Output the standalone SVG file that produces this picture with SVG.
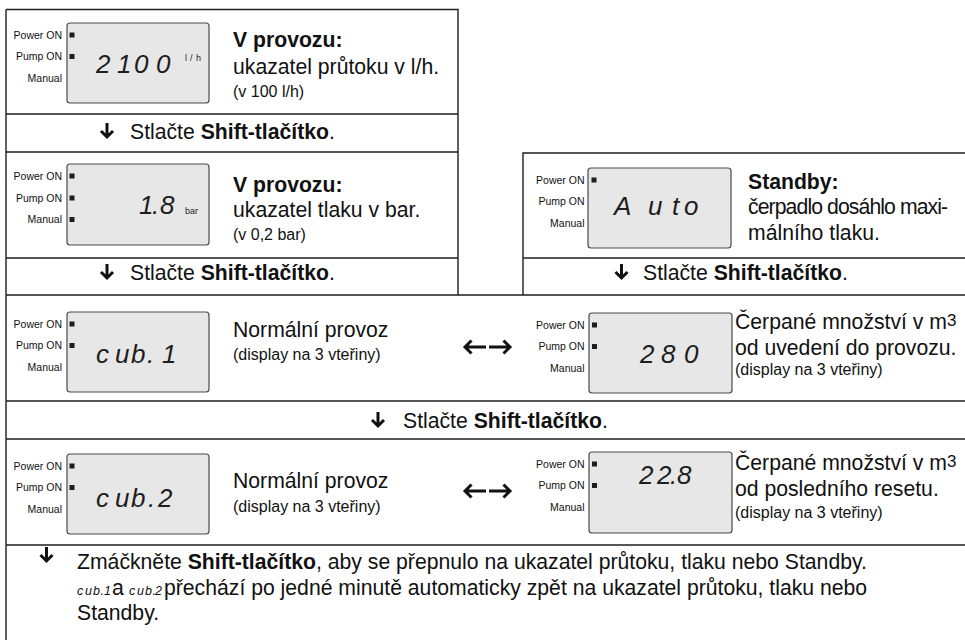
<svg xmlns="http://www.w3.org/2000/svg" width="965" height="640" viewBox="0 0 965 640">
<style>
.frame{fill:none;stroke:#1e1e1e;stroke-width:1.4}
.lcd{fill:#e7e7e7;stroke:#4a4a4a;stroke-width:1.2}
.lbl{font-family:"Liberation Sans",Arial,sans-serif;font-size:10.5px;fill:#111;text-anchor:end}
.led{fill:#1e1e1e}
.seg{font-family:"Liberation Sans",Arial,sans-serif;font-style:italic;font-size:26px;fill:#1e1e1e}
.unit{font-family:"Liberation Sans",Arial,sans-serif;font-size:9px;fill:#1e1e1e}
.t{font-family:"Liberation Sans",Arial,sans-serif;font-size:21.2px;fill:#111}
.b{font-weight:bold}
.s{font-family:"Liberation Sans",Arial,sans-serif;font-size:16px;fill:#111}
.sm{font-style:italic;font-size:12.5px}
.arr{fill:none;stroke:#111;stroke-width:3;stroke-linejoin:miter;stroke-linecap:butt}
</style>
<g id="frame" class="frame">
<path d="M6,9.5 H458 V295 M6,9.5 V640 M6,114 H458 M6,152 H458 M6,258 H458"/>
<path d="M523,295 V153 H965 M523,258 H965"/>
<path d="M6,295 H965 M6,401 H965 M6,439 H965 M6,545 H965"/>
</g>

<g id="node-flow">
<rect class="lcd" x="67" y="23" width="142" height="80" rx="3"/>
<text class="lbl" x="62" y="38.5">Power ON</text>
<text class="lbl" x="62" y="60">Pump ON</text>
<text class="lbl" x="62" y="81.5">Manual</text>
<rect class="led" x="69.5" y="32.5" width="5" height="5"/>
<rect class="led" x="69.5" y="54" width="5" height="5"/>
<text class="seg" x="96 117 134 156" y="73">2100</text>
<text class="unit" x="185 190 196" y="61" font-size="8">l/h</text>
<text class="t b" x="233" y="47">V provozu:</text>
<text class="t" x="233" y="74">ukazatel průtoku v l/h.</text>
<text class="s" x="233" y="97">(v 100 l/h)</text>
</g>

<g id="step-1">
<text class="t" x="130" y="139">Stlačte <tspan class="b">Shift-tlačítko</tspan>.</text>
</g>

<g id="node-pressure">
<rect class="lcd" x="67" y="164" width="142" height="81" rx="3"/>
<text class="lbl" x="62" y="179.5">Power ON</text>
<text class="lbl" x="62" y="201.5">Pump ON</text>
<text class="lbl" x="62" y="223">Manual</text>
<rect class="led" x="69.5" y="173.5" width="5" height="5"/>
<rect class="led" x="69.5" y="195.5" width="5" height="5"/>
<rect class="led" x="69.5" y="217" width="5" height="5"/>
<text class="seg" x="139 152 160" y="214">1.8</text>
<text class="unit" x="185" y="214">bar</text>
<text class="t b" x="233" y="192">V provozu:</text>
<text class="t" x="233" y="217">ukazatel tlaku v bar.</text>
<text class="s" x="233" y="240">(v 0,2 bar)</text>
</g>

<g id="step-2">
<text class="t" x="130" y="280">Stlačte <tspan class="b">Shift-tlačítko</tspan>.</text>
</g>

<g id="node-standby">
<rect class="lcd" x="588" y="168" width="143" height="80" rx="3"/>
<text class="lbl" x="584.5" y="183.5">Power ON</text>
<text class="lbl" x="584.5" y="205">Pump ON</text>
<text class="lbl" x="584.5" y="227">Manual</text>
<rect class="led" x="591.5" y="177.5" width="5" height="5"/>
<text class="seg" x="614 648 672 684" y="215">Auto</text>
<text class="t b" x="748" y="189">Standby:</text>
<text class="t" x="748" y="214" letter-spacing="-0.9">čerpadlo dosáhlo maxi-</text>
<text class="t" x="748" y="240">málního tlaku.</text>
</g>

<g id="step-3">
<text class="t" x="643" y="280">Stlačte <tspan class="b">Shift-tlačítko</tspan>.</text>
</g>

<g id="node-cub1">
<rect class="lcd" x="67" y="312" width="142" height="80" rx="3"/>
<text class="lbl" x="62" y="327.5">Power ON</text>
<text class="lbl" x="62" y="349">Pump ON</text>
<text class="lbl" x="62" y="370.5">Manual</text>
<rect class="led" x="69.5" y="321.5" width="5" height="5"/>
<rect class="led" x="69.5" y="343" width="5" height="5"/>
<text class="seg" x="96 115 131 147 162" y="363">cub.1</text>
<text class="t" x="233" y="337">Normální provoz</text>
<text class="s" x="233" y="360">(display na 3 vteřiny)</text>
</g>

<g id="node-total">
<rect class="lcd" x="589" y="313" width="143" height="80" rx="3"/>
<text class="lbl" x="584.5" y="328.5">Power ON</text>
<text class="lbl" x="584.5" y="350">Pump ON</text>
<text class="lbl" x="584.5" y="371.5">Manual</text>
<rect class="led" x="592" y="322.5" width="5" height="5"/>
<rect class="led" x="592" y="344" width="5" height="5"/>
<text class="seg" x="640 661 684" y="363">280</text>
<text class="t" x="735" y="329">Čerpané množství v m<tspan font-size="17" dy="-3">3</tspan></text>
<text class="t" x="735" y="355">od uvedení do provozu.</text>
<text class="s" x="735" y="375">(display na 3 vteřiny)</text>
</g>

<g id="step-4">
<text class="t" x="403" y="428">Stlačte <tspan class="b">Shift-tlačítko</tspan>.</text>
</g>

<g id="node-cub2">
<rect class="lcd" x="67" y="454" width="142" height="80" rx="3"/>
<text class="lbl" x="62" y="469.5">Power ON</text>
<text class="lbl" x="62" y="491">Pump ON</text>
<text class="lbl" x="62" y="512.5">Manual</text>
<rect class="led" x="69.5" y="463.5" width="5" height="5"/>
<rect class="led" x="69.5" y="485" width="5" height="5"/>
<text class="seg" x="96 115 131 148 158" y="507">cub.2</text>
<text class="t" x="233" y="488">Normální provoz</text>
<text class="s" x="233" y="512">(display na 3 vteřiny)</text>
</g>

<g id="node-reset">
<rect class="lcd" x="589" y="452" width="143" height="81" rx="3"/>
<text class="lbl" x="584.5" y="467.5">Power ON</text>
<text class="lbl" x="584.5" y="489">Pump ON</text>
<text class="lbl" x="584.5" y="510.5">Manual</text>
<rect class="led" x="592" y="461.5" width="5" height="5"/>
<rect class="led" x="592" y="483" width="5" height="5"/>
<text class="seg" x="639 657 670 677" y="484">22.8</text>
<text class="t" x="735" y="470">Čerpané množství v m<tspan font-size="17" dy="-3">3</tspan></text>
<text class="t" x="735" y="496">od posledního resetu.</text>
<text class="s" x="735" y="518">(display na 3 vteřiny)</text>
</g>

<g id="note">
<text class="t" x="77" y="569">Zmáčkněte <tspan class="b">Shift-tlačítko</tspan>, aby se přepnulo na ukazatel průtoku, tlaku nebo Standby.</text>
<text class="t" y="595"><tspan class="sm" x="77 85 93 100.5 104">cub.1</tspan><tspan x="112">a</tspan><tspan class="sm" x="129 137 145 152.5 155">cub.2</tspan><tspan x="164">přechází po jedné minutě automaticky zpět na ukazatel průtoku, tlaku nebo</tspan></text>
<text class="t" x="77" y="620">Standby.</text>
</g>

<g id="connectors" class="arr">
<path d="M107,123 V137 M101,131 L107,137 L113,131"/>
<path d="M107,264 V278 M101,272 L107,278 L113,272"/>
<path d="M621.5,264 V278 M615.5,272 L621.5,278 L627.5,272"/>
<path d="M378,412 V426 M372,420 L378,426 L384,420"/>
<path d="M486,347 H465 M471.5,340.5 L465,347 L471.5,353.5"/>
<path d="M489,347 H510 M503.5,340.5 L510,347 L503.5,353.5"/>
<path d="M486,491 H465 M471.5,484.5 L465,491 L471.5,497.5"/>
<path d="M489,491 H510 M503.5,484.5 L510,491 L503.5,497.5"/>
<path d="M46.5,547 V561 M40.5,555 L46.5,561 L52.5,555"/>
</g>
</svg>
